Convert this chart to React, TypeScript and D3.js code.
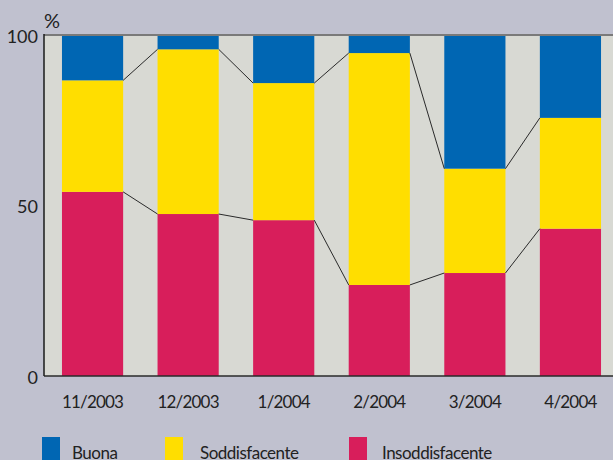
import React from "react";
import * as d3 from "d3";

const categories = ["11/2003", "12/2003", "1/2004", "2/2004", "3/2004", "4/2004"];
const insoddisfacente = [54.0, 47.5, 45.7, 26.7, 30.2, 43.2];
const soddisfacente = [32.7, 48.3, 40.2, 68.0, 30.6, 32.5];
const buona = [13.3, 4.2, 14.1, 5.3, 39.2, 24.3];
const yTicks = [0, 50, 100];
const seriesNames = ["Buona", "Soddisfacente", "Insoddisfacente"];
const seriesColors = ["#0066b3", "#ffde00", "#d81e5b"];

const W = 613;
const H = 460;
const left = 44;
const top = 35;
const bottom = 376;
const FONT = "Lato, 'Open Sans', sans-serif";

export default function App() {
  const x = d3
    .scaleBand<string>()
    .domain(categories)
    .range([left, 619])
    .paddingInner(0.36)
    .paddingOuter(0.188);
  const y = d3.scaleLinear().domain([0, 100]).range([bottom, top]);

  const rows = categories.map((c, i) => ({
    cat: c,
    Insoddisfacente: insoddisfacente[i],
    Soddisfacente: soddisfacente[i],
    Buona: buona[i],
  }));
  const stack = d3.stack<any>().keys(["Insoddisfacente", "Soddisfacente", "Buona"]);
  const layers = stack(rows);
  const colorOf: Record<string, string> = {
    Buona: seriesColors[0],
    Soddisfacente: seriesColors[1],
    Insoddisfacente: seriesColors[2],
  };

  const bw = x.bandwidth();
  const boundaryLayers = layers.slice(0, 2);
  const line = d3.line<[number, number]>().x((d) => d[0]).y((d) => d[1]);

  return (
    <svg width={W} height={H} style={{ position: "absolute", left: 0, top: 0, display: "block" }}>
      <rect x={0} y={0} width={W} height={H} fill="#c0c1cf" />
      <rect x={left} y={top} width={W - left} height={bottom - top} fill="#d8d9d3" />
      {layers.map((layer) => (
        <g key={layer.key}>
          {layer.map((d, i) => (
            <rect
              key={i}
              x={x(categories[i])}
              y={y(d[1])}
              width={bw}
              height={y(d[0]) - y(d[1])}
              fill={colorOf[layer.key]}
            />
          ))}
        </g>
      ))}
      {boundaryLayers.map((layer) =>
        layer.slice(0, -1).map((d, i) => {
          const x1 = (x(categories[i]) as number) + bw;
          const x2 = x(categories[i + 1]) as number;
          const pts: [number, number][] = [
            [x1, y(d[1])],
            [x2, y(layer[i + 1][1])],
          ];
          return (
            <path key={layer.key + i} d={line(pts) || ""} stroke="#2a2a2a" strokeWidth={1} fill="none" />
          );
        })
      )}
      <line x1={left} x2={W} y1={top} y2={top} stroke="#7a7a7a" strokeWidth={2} />
      <line x1={left} x2={W} y1={bottom} y2={bottom} stroke="#2a2a2a" strokeWidth={1.5} />
      <line x1={left} x2={left} y1={top - 1} y2={bottom} stroke="#1a1a1a" strokeWidth={1.5} />
      {yTicks.map((t) => (
        <text
          key={t}
          x={38}
          y={y(t) + 3}
          textAnchor="end"
          dominantBaseline="middle"
          fontFamily={FONT}
          fontSize={18}
          fill="#222"
        >
          {t}
        </text>
      ))}
      <text x={44} y={28} fontFamily={FONT} fontSize={20} fill="#222">
        %
      </text>
      {categories.map((c) => (
        <text
          key={c}
          x={(x(c) as number) + bw / 2}
          y={408}
          textAnchor="middle"
          fontFamily={FONT}
          fontSize={17}
          letterSpacing={-0.8}
          fill="#222"
        >
          {c}
        </text>
      ))}
      {seriesNames.map((n, i) => {
        const lx = [42, 165, 349][i];
        const tx = [72, 200, 382][i];
        return (
          <g key={n}>
            <rect x={lx} y={437} width={18} height={23} fill={seriesColors[i]} />
            <text x={tx} y={459} fontFamily={FONT} fontSize={17} letterSpacing={-0.5} fill="#222">
              {n}
            </text>
          </g>
        );
      })}
    </svg>
  );
}
